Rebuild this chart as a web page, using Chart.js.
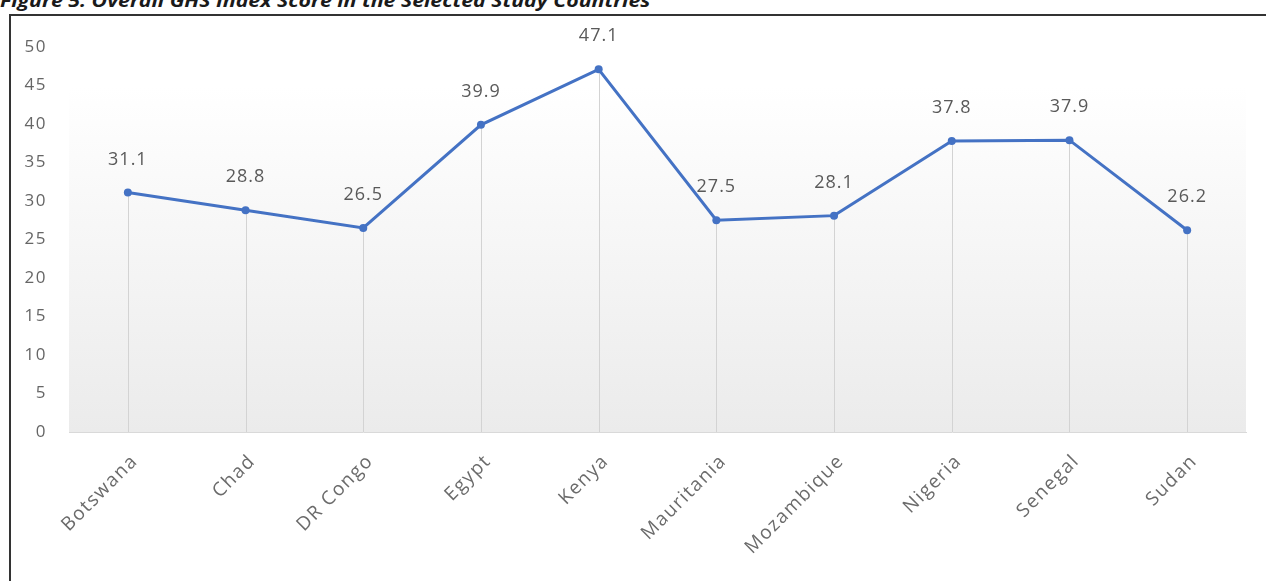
<!DOCTYPE html>
<html>
<head>
<meta charset="utf-8">
<script src="https://cdn.jsdelivr.net/npm/chart.js@4.4.0/dist/chart.umd.min.js"></script>
<style>
  html, body { margin: 0; padding: 0; background: #fff; overflow: hidden; }
  #wrap { position: relative; width: 1266px; height: 581px; overflow: hidden; }
  #title { position: absolute; left: 0; top: -12px; font: italic bold 18px "Open Sans", sans-serif; white-space: nowrap; transform-origin: 0 0; color: #1a1a1a; }
  #frame { position: absolute; left: 9px; top: 14px; width: 1300px; height: 640px; border: 2px solid #333; box-sizing: border-box; }
  canvas { position: absolute; left: 0; top: 0; }
</style>
</head>
<body>
<div id="wrap">
  <div id="title">Figure 5: Overall GHS Index Score in the Selected Study Countries</div>
  <div id="frame"></div>
  <canvas id="ghsChart" width="1266" height="581"></canvas>
</div>
<script>
const countries = ['Botswana', 'Chad', 'DR Congo', 'Egypt', 'Kenya', 'Mauritania', 'Mozambique', 'Nigeria', 'Senegal', 'Sudan'];
const scores = [31.1, 28.8, 26.5, 39.9, 47.1, 27.5, 28.1, 37.8, 37.9, 26.2];
const yMin = 0;
const yMax = 50;
const yStep = 5;

// squeeze the caption to the width it takes in the report
const title = document.getElementById('title');
title.style.transform = 'scaleX(' + (650 / title.offsetWidth) + ')';

const plotBackground = {
  id: 'plotBackground',
  beforeDraw(chart) {
    const {ctx, chartArea: a} = chart;
    const top = a.top + 40;
    const g = ctx.createLinearGradient(0, top, 0, a.bottom);
    g.addColorStop(0, '#ffffff');
    g.addColorStop(1, '#ebebeb');
    ctx.save();
    ctx.fillStyle = g;
    ctx.fillRect(a.left, top, a.right - a.left, a.bottom - top);
    ctx.restore();
  }
};

// vertical drop lines from each point to the axis
const dropLines = {
  id: 'dropLines',
  beforeDatasetsDraw(chart) {
    const {ctx, chartArea: a} = chart;
    ctx.save();
    ctx.strokeStyle = '#d3d3d3';
    ctx.lineWidth = 1;
    chart.getDatasetMeta(0).data.forEach(pt => {
      const x = Math.round(pt.x) + 0.5;
      ctx.beginPath();
      ctx.moveTo(x, pt.y);
      ctx.lineTo(x, a.bottom);
      ctx.stroke();
    });
    ctx.restore();
  }
};

const valueLabels = {
  id: 'valueLabels',
  afterDatasetsDraw(chart) {
    const ctx = chart.ctx;
    ctx.save();
    ctx.font = '18px "Open Sans", sans-serif';
    ctx.letterSpacing = '1px';
    ctx.fillStyle = '#595959';
    ctx.textAlign = 'center';
    ctx.textBaseline = 'middle';
    chart.getDatasetMeta(0).data.forEach((pt, i) => {
      ctx.fillText(scores[i].toFixed(1), pt.x, pt.y - 33);
    });
    ctx.restore();
  }
};

const spacing = {
  id: 'spacing',
  beforeDraw(chart) { chart.ctx.letterSpacing = '1.5px'; },
  afterDraw(chart) { chart.ctx.letterSpacing = '0px'; }
};

new Chart(document.getElementById('ghsChart'), {
  type: 'line',
  data: {
    labels: countries,
    datasets: [{
      data: scores,
      borderColor: '#4472C4',
      backgroundColor: '#4472C4',
      borderWidth: 3,
      pointRadius: 4,
      pointBorderWidth: 0,
      tension: 0,
      fill: false
    }]
  },
  options: {
    responsive: false,
    animation: false,
    layout: { padding: { top: 47, right: 20, left: 0, bottom: 0 } },
    plugins: {
      legend: { display: false },
      tooltip: { enabled: false }
    },
    scales: {
      x: {
        offset: true,
        grid: { display: false, drawTicks: false },
        border: { display: true, color: '#d9d9d9', width: 1 },
        ticks: {
          color: '#6b6b6b',
          font: { family: 'Open Sans', size: 19 },
          minRotation: 45,
          maxRotation: 45,
          padding: 18,
          labelOffset: 7,
          autoSkip: false
        },
        afterFit(scale) { scale.height = 149; }
      },
      y: {
        min: yMin,
        max: yMax,
        grid: { display: false, drawTicks: false },
        border: { display: false },
        ticks: {
          stepSize: yStep,
          color: '#666666',
          font: { family: 'Open Sans', size: 17 },
          padding: 22
        },
        afterFit(scale) { scale.width = 69; }
      }
    }
  },
  plugins: [plotBackground, dropLines, valueLabels, spacing]
});
</script>
</body>
</html>
